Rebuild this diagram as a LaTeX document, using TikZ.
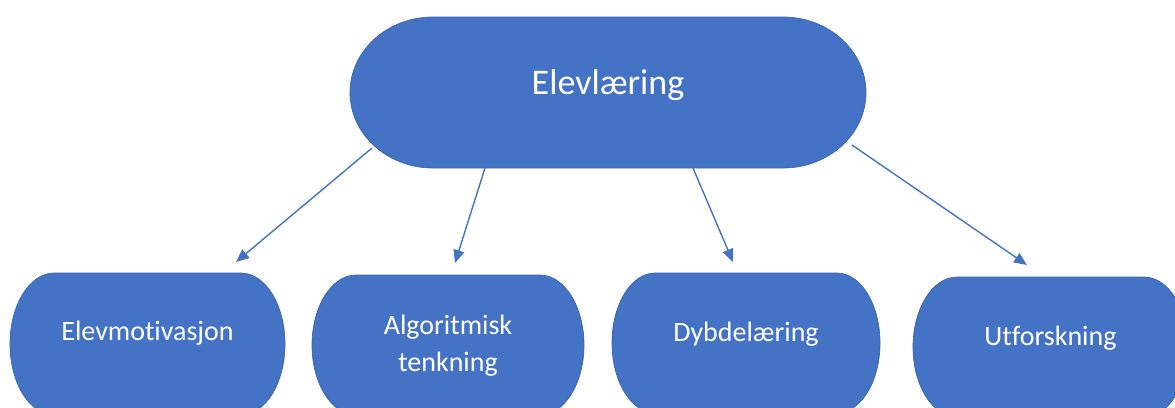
\documentclass[tikz,border=0pt]{standalone}
\usepackage{fontspec}
\setmainfont{Carlito}[Ligatures={NoCommon}]
\usetikzlibrary{arrows.meta,calc}
\definecolor{officeblue}{HTML}{4472C4}
\definecolor{edgeblue}{HTML}{3A64AE}

\pgfdeclarelayer{background}
\pgfsetlayers{background,main}

% Terminator outline behind a named node: #1 node name, #2 horizontal end radius
\newcommand\termshape[2]{%
  \begin{pgfonlayer}{background}
    \path let \p1=(#1.north west), \p2=(#1.south east) in
      [shapefill]
      (\x1+#2,\y1) -- (\x2-#2,\y1)
      arc[start angle=90, end angle=-90, x radius=#2, y radius={(\y1-\y2)/2}]
      -- (\x1+#2,\y2)
      arc[start angle=270, end angle=90, x radius=#2, y radius={(\y1-\y2)/2}]
      -- cycle;
  \end{pgfonlayer}}

\begin{document}
\begin{tikzpicture}[x=1pt,y=-1pt,
  shapefill/.style={draw=edgeblue, line width=0.7pt, fill=officeblue},
  shapebox/.style={inner sep=0pt, outer sep=0pt},
  toptext/.style={text=white, font=\fontsize{36}{40}\selectfont},
  subtext/.style={text=white, font=\fontsize{28}{37}\selectfont, align=center},
  link/.style={draw=officeblue, line width=1.4pt,
    -{Triangle[length=13pt,width=11pt]}}]

  \useasboundingbox (0,0) rectangle (1175,407);

  % main concept
  \node[shapebox, minimum width=516pt, minimum height=151pt,
        label={[toptext, yshift=7pt]center:Elevlæring}] (top) at (608,92.5) {};
  \termshape{top}{83pt}

  % sub concepts
  \node[shapebox, minimum width=275pt, minimum height=142pt,
        label={[subtext, yshift=11pt]center:Elevmotivasjon}] (n1) at (147.5,344) {};
  \node[shapebox, minimum width=272pt, minimum height=140pt,
        label={[subtext, yshift=-1pt]center:Algoritmisk\\tenkning}] (n2) at (448,345) {};
  \node[shapebox, minimum width=268pt, minimum height=140pt,
        label={[subtext, yshift=9pt]center:Dybdelæring}] (n3) at (746,343) {};
  \node[shapebox, minimum width=275pt, minimum height=140pt,
        label={[subtext, yshift=9pt]center:Utforskning}] (n4) at (1050.5,347) {};
  \termshape{n1}{44pt}
  \termshape{n2}{44pt}
  \termshape{n3}{43pt}
  \termshape{n4}{44pt}

  % arrow start points on the main shape
  \coordinate (s1) at ($(top.center)+(-236,55.5)$);
  \coordinate (s2) at ($(top.center)+(-123,75.5)$);
  \coordinate (s3) at ($(top.center)+(85,75.5)$);
  \coordinate (s4) at ($(top.center)+(244,52.5)$);

  % arrow tips just above the sub concepts
  \coordinate (t1) at ($(n1.north)+(88.5,-11)$);
  \coordinate (t2) at ($(n2.north)+(7,-12)$);
  \coordinate (t3) at ($(n3.north)+(-13,-11)$);
  \coordinate (t4) at ($(n4.north)+(-23.5,-12)$);

  \draw[link] (s1) -- (t1);
  \draw[link] (s2) -- (t2);
  \draw[link] (s3) -- (t3);
  \draw[link] (s4) -- (t4);
\end{tikzpicture}
\end{document}
